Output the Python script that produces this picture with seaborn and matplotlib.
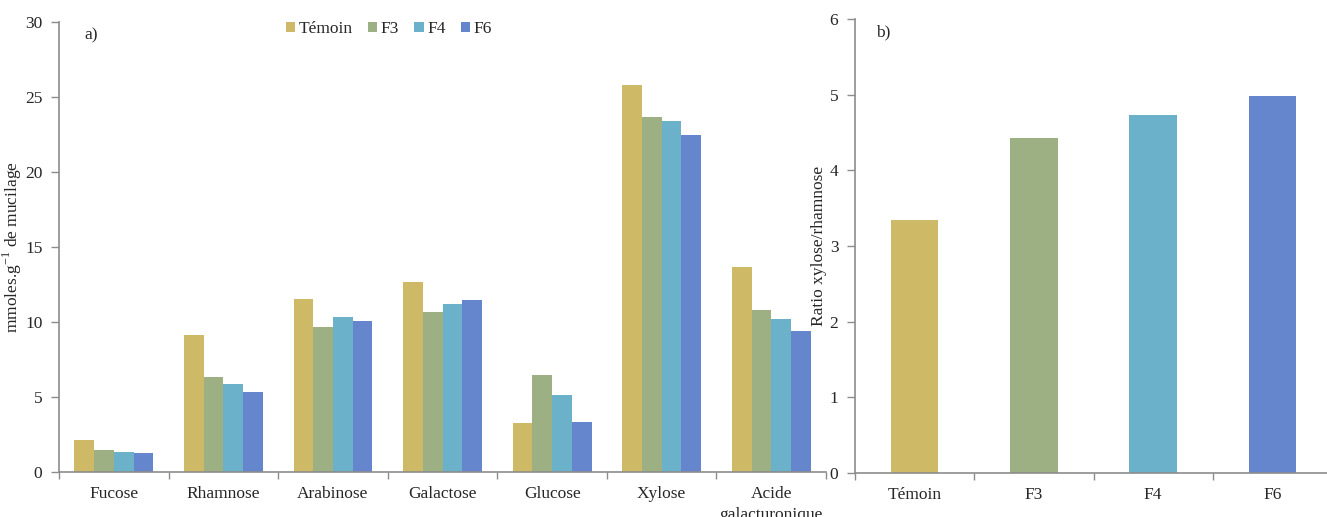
import numpy as np
import pandas as pd
import seaborn as sns
import matplotlib
matplotlib.use("Agg")
import matplotlib.pyplot as plt
from matplotlib.ticker import FixedLocator

# Data
sugars = ["Fucose", "Rhamnose", "Arabinose", "Galactose", "Glucose", "Xylose",
          "Acide\ngalacturonique"]
treatments = ["Témoin", "F3", "F4", "F6"]
temoin = [2.11, 9.13, 11.55, 12.67, 3.30, 25.80, 13.69]
f3 = [1.49, 6.33, 9.67, 10.65, 6.47, 23.67, 10.82]
f4 = [1.33, 5.87, 10.31, 11.22, 5.13, 23.38, 10.20]
f6 = [1.27, 5.33, 10.07, 11.45, 3.33, 22.47, 9.38]
ratio_xyl_rha = [3.35, 4.43, 4.73, 4.98]

colors = ["#CEB966", "#9CB084", "#6BB1C9", "#6585CD"]
spine_col = "#8c8c8c"
fs = 12.5

sns.set_style("white")
plt.rcParams["font.family"] = ["Liberation Serif", "DejaVu Serif"]
plt.rcParams["font.size"] = fs

df = pd.DataFrame({
    "sugar": np.repeat(sugars, len(treatments)),
    "treatment": treatments * len(sugars),
    "value": np.column_stack([temoin, f3, f4, f6]).ravel(),
})
df_b = pd.DataFrame({"treatment": treatments, "ratio": ratio_xyl_rha})

fig = plt.figure(figsize=(13.27, 5.17), dpi=100)
ax1 = fig.add_axes([0.0445, 0.087, 0.578, 0.870])
ax2 = fig.add_axes([0.6443, 0.0851, 0.3595, 0.878])

# a) sugar composition
sns.barplot(data=df, x="sugar", y="value", hue="treatment", hue_order=treatments,
            palette=colors, width=0.72, gap=0, linewidth=0, saturation=1,
            errorbar=None, ax=ax1)
ax1.set_xlim(-0.5, len(sugars) - 0.5)
ax1.set_ylim(0, 30)
ax1.set_yticks(range(0, 31, 5))
ax1.set_xlabel("")
ax1.set_ylabel("mmoles.g$^{\\mathregular{-1}}$ de mucilage", fontsize=fs)
ax1.yaxis.set_label_coords(-0.0456, 0.5)
ax1.text(0.033, 0.97, "a)", transform=ax1.transAxes, ha="left", va="center",
         fontsize=fs)
ax1.legend(loc="center", bbox_to_anchor=(0.43, 0.985), ncol=4, frameon=False,
           handlelength=0.52, handleheight=0.52, handletextpad=0.2,
           columnspacing=0.9, fontsize=fs, borderpad=0)

# b) xylose / rhamnose ratio
sns.barplot(data=df_b, x="treatment", y="ratio", hue="treatment", hue_order=treatments,
            palette=colors, width=0.4, linewidth=0, saturation=1, legend=False,
            errorbar=None, ax=ax2)
ax2.set_xlim(-0.5, len(treatments) - 0.5)
ax2.set_ylim(0, 6)
ax2.set_yticks(range(0, 7))
ax2.set_xlabel("")
ax2.set_ylabel("Ratio xylose/rhamnose", fontsize=fs)
ax2.yaxis.set_label_coords(-0.0587, 0.5)
ax2.text(0.044, 0.97, "b)", transform=ax2.transAxes, ha="left", va="center",
         fontsize=fs)

for ax, n in [(ax1, len(sugars)), (ax2, len(treatments))]:
    sns.despine(ax=ax)
    for s in ["left", "bottom"]:
        ax.spines[s].set_color(spine_col)
        ax.spines[s].set_linewidth(1.2)
    ax.xaxis.set_minor_locator(FixedLocator(np.arange(-0.5, n, 1.0)))
    ax.tick_params(axis="x", which="major", bottom=True, length=0, pad=10, labelsize=fs)
    ax.tick_params(axis="x", which="minor", bottom=True, length=5, color=spine_col,
                   width=1)
    ax.tick_params(axis="y", left=True, length=6, color=spine_col, width=1,
                   labelsize=fs, pad=6)
    ax.grid(False)
    for lbl in ax.get_xticklabels():
        lbl.set_linespacing(1.45)

fig.savefig("out.png", dpi=100)
